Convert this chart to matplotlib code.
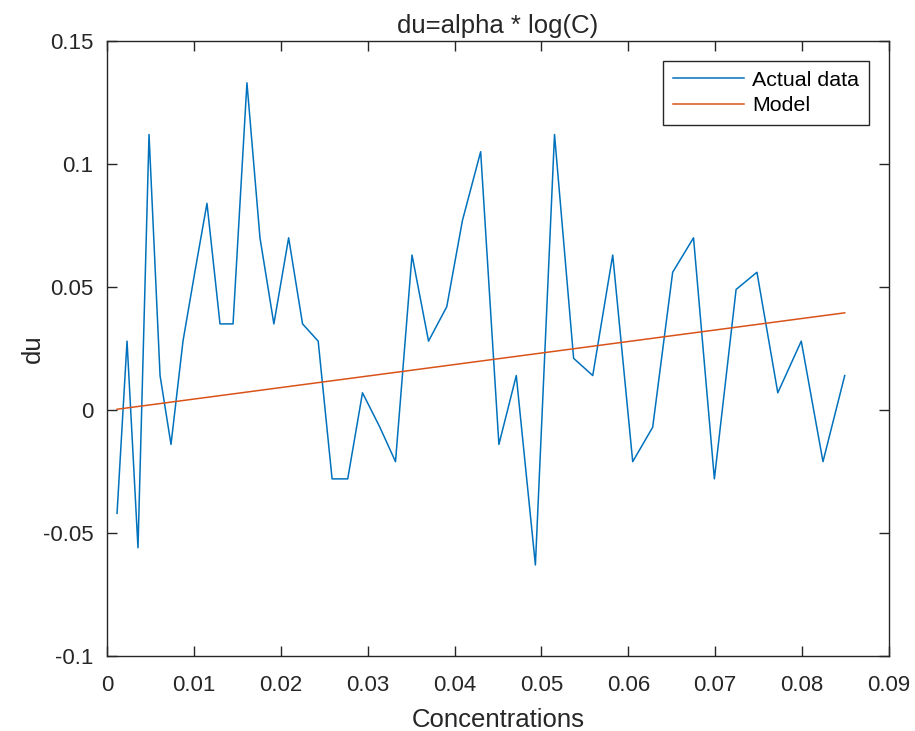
import numpy as np
import matplotlib.pyplot as plt

plt.rcParams['font.family'] = ['Liberation Sans', 'DejaVu Sans']
plt.rcParams['axes.unicode_minus'] = False

# concentrations
conc = [0.00115, 0.0023, 0.00356, 0.00483, 0.0061, 0.00736, 0.00874, 0.0101,
        0.0115, 0.0130, 0.0145, 0.0161, 0.0176, 0.0192, 0.0209, 0.0225,
        0.0243, 0.0259, 0.0277, 0.0294, 0.0314, 0.0332, 0.0351, 0.0370,
        0.0391, 0.0409, 0.0430, 0.0451, 0.0471, 0.0493, 0.0515, 0.0537,
        0.0559, 0.0582, 0.0605, 0.0628, 0.0651, 0.0675, 0.0699, 0.0724,
        0.0748, 0.0772, 0.0799, 0.0824, 0.0849]
du = [-0.042, 0.028, -0.056, 0.112, 0.014, -0.014, 0.028, 0.056,
      0.084, 0.035, 0.035, 0.133, 0.070, 0.035, 0.070, 0.035,
      0.028, -0.028, -0.028, 0.007, -0.007, -0.021, 0.063, 0.028,
      0.042, 0.077, 0.105, -0.014, 0.014, -0.063, 0.112, 0.021,
      0.014, 0.063, -0.021, -0.007, 0.056, 0.070, -0.028, 0.049,
      0.056, 0.007, 0.028, -0.021, 0.014]

# fitted model, straight line end points
model_x = [conc[0], conc[-1]]
model_y = [0.0003, 0.0395]

xticks = [0, 0.01, 0.02, 0.03, 0.04, 0.05, 0.06, 0.07, 0.08, 0.09]
xlabels = ['0', '0.01', '0.02', '0.03', '0.04', '0.05', '0.06', '0.07', '0.08', '0.09']
yticks = [-0.1, -0.05, 0, 0.05, 0.1, 0.15]
ylabels = ['-0.1', '-0.05', '0', '0.05', '0.1', '0.15']

fig = plt.figure(figsize=(9.15, 7.31), dpi=100)
ax = fig.add_axes([0.117, 0.1026, 0.8546, 0.8413])

ax.plot(conc, du, color='#0072BD', lw=1.1, label='Actual data')
ax.plot(model_x, model_y, color='#D95319', lw=1.1, label='Model')

ax.set_xlim(0, 0.09)
ax.set_ylim(-0.1, 0.15)
ax.set_xticks(xticks)
ax.set_xticklabels(xlabels)
ax.set_yticks(yticks)
ax.set_yticklabels(ylabels)

axcol = '#262626'
for s in ax.spines.values():
    s.set_color(axcol)
    s.set_linewidth(1.0)
ax.tick_params(direction='in', length=7, width=1.0, color=axcol,
               labelsize=16, labelcolor=axcol, top=True, right=True)
ax.tick_params(axis='x', pad=14)
ax.tick_params(axis='y', pad=10)

ax.set_xlabel('Concentrations', fontsize=18.5, color=axcol, labelpad=8)
ax.set_ylabel('du', fontsize=18.5, color=axcol, labelpad=-2)
ax.set_title('du=alpha * log(C)', fontsize=18.5, color=axcol, pad=6)

leg = ax.legend(loc='upper right', fontsize=15.4, handlelength=3.3,
                fancybox=False, framealpha=1, edgecolor=axcol,
                borderaxespad=0.95, labelspacing=0.3, handletextpad=0.4,
                borderpad=0.45)
leg.get_frame().set_linewidth(1.0)

fig.savefig('out.png', dpi=100)
